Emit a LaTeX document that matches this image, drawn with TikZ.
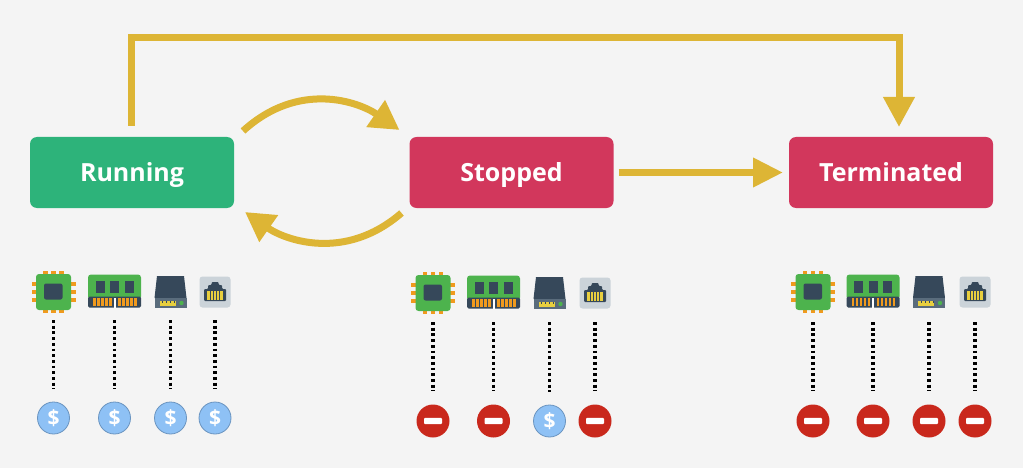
\documentclass[tikz,border=0pt]{standalone}
\usepackage{fontspec}
\setmainfont{Open Sans}
\usetikzlibrary{arrows.meta,calc}
\definecolor{bgc}{HTML}{F4F4F4}
\definecolor{gold}{HTML}{DDB535}
\definecolor{runc}{HTML}{2DB37A}
\definecolor{stopc}{HTML}{D2375C}
\definecolor{chipg}{HTML}{4DB34D}
\definecolor{dark}{HTML}{36485A}
\definecolor{pinc}{HTML}{F09A1E}
\definecolor{slate}{HTML}{5A6C7C}
\definecolor{netc}{HTML}{CBD3D9}
\definecolor{pinny}{HTML}{E8CF3F}
\definecolor{coinf}{HTML}{8EC1F5}
\definecolor{coind}{HTML}{6A94C0}
\definecolor{stopr}{HTML}{C9281C}
\tikzset{
  x=1pt,y=-1pt,
  statebox/.style={fill=#1,rounded corners=7pt,minimum width=204pt,minimum height=71pt,inner sep=0pt,outer sep=0pt,text=white,text height=18pt,text depth=0pt,font=\fontsize{25}{26}\selectfont\bfseries},
  flow/.style={draw=gold,line width=7pt},
  flowhead/.style={flow,-{Triangle[length=30pt,width=30pt]}},
  curvehead/.style={flow,-{Triangle[length=29pt,width=31pt]}},
  dotline/.style={draw=black,line width=3.2pt,dash pattern=on 2.8pt off 2.9pt,shorten >=13pt},
  coin/.style={circle,fill=coinf,draw=coind,line width=0.8pt,minimum size=32pt,inner sep=0pt,text=white,font=\fontsize{21}{22}\selectfont\bfseries},
  nogo/.style={circle,fill=stopr,minimum size=33pt,inner sep=0pt,
    path picture={\fill[white,rounded corners=1pt] ([shift={(-9pt,-3.2pt)}]path picture bounding box.center) rectangle ++(18,-6.4);}},
  chip/.pic={
    \foreach \d in {-8,0,8}{
      \fill[pinc] (\d-2.4,-21) rectangle (\d+2.4,21);
      \fill[pinc] (-22,\d-2.4) rectangle (22,\d+2.4);}
    \fill[chipg,rounded corners=3pt] (-17.5,-18) rectangle (17.5,18);
    \fill[dark,rounded corners=2pt] (-9.5,-8.5) rectangle (9,7.5);
  },
  ram/.pic={
    \fill[chipg,rounded corners=3pt] (-26.5,-17) rectangle (26.5,8);
    \fill[dark,rounded corners=1.5pt] (-26.5,5) rectangle (26.5,16);
    \foreach \d in {-14.5,0,14.5}{\fill[dark] (\d-4.5,-10.5) rectangle (\d+4.5,1);}
    \foreach \d in {-20,-16,-12,-8,-4,5,9,13,17,21}{\fill[pinc] (\d-1.2,6) rectangle (\d+1.2,14.5);}
    \fill[white] (-1,6) rectangle (1,16);
  },
  disk/.pic={
    \fill[dark] (-13.5,-16) -- (13.5,-16) -- (16,6) -- (-16,6) -- cycle;
    \fill[slate] (-16,6) rectangle (16,16);
    \fill[pinny] (-11,9) rectangle (5,13.5);
    \foreach \d in {-8,-4,0,4}{\fill[dark] (\d-.5,9) rectangle (\d+.5,11);}
    \fill[chipg] (11,11) circle (2.2);
  },
  netport/.pic={
    \fill[netc,rounded corners=3pt] (-15.5,-15.5) rectangle (15.5,15.5);
    \fill[dark,rounded corners=1pt] (-11,9) -- (-11,-3) -- (-7,-3) -- (-7,-7) -- (-3.5,-7) -- (-3.5,-10) -- (3.5,-10) -- (3.5,-7) -- (7,-7) -- (7,-3) -- (11,-3) -- (11,9) -- cycle;
    \fill[pinny] (-8,-1) rectangle (8,7.5);
    \foreach \d in {-4.8,-1.6,1.6,4.8}{\fill[dark] (\d-.4,-1) rectangle (\d+.4,7.5);}
  }
}
\begin{document}
\begin{tikzpicture}
\useasboundingbox (0,0) rectangle (1023,468);
\fill[bgc] (0,0) rectangle (1023,468);
% states
\node[statebox=runc] (running) at (132,172.5) {Running};
\node[statebox=stopc] (stopped) at (511.5,172.5) {Stopped};
\node[statebox=stopc] (terminated) at (891,172.5) {Terminated};
% transitions
\coordinate (topL) at (131,38);
\coordinate (topR) at (899,38);
\draw[flowhead,line join=miter] ([shift={(-1pt,11pt)}]running.north) -- (topL) -- (topR) -- ([shift={(8pt,10pt)}]terminated.north);
\draw[flowhead,-{Triangle[length=30pt,width=28pt]}] (stopped.east) ++(5pt,0) -- ([xshift=-6pt]terminated.west);
\draw[curvehead] ([shift={(9pt,6pt)}]running.north east) .. controls (299,80) and (359,102) .. ([shift={(-10pt,7pt)}]stopped.north west);
\draw[curvehead] ([shift={(-8pt,-5pt)}]stopped.south west) .. controls (345,262) and (285,240) .. ([shift={(11pt,-4pt)}]running.south east);
% icons, dotted links and price marks
\foreach \p/\xa/\xb/\xc/\xd/\yi/\yd/\yc/\ka/\kb/\kc/\kd in {
  r/53.5/114.5/170.5/215/292/320/418/coin/coin/coin/coin,
  s/433/493.5/549.5/595/293/322/421/nogo/nogo/coin/nogo,
  t/813/873/929/975/292/322/421/nogo/nogo/nogo/nogo}{
  \pic at (\xa,\yi) {chip};
  \pic at (\xb,\yi-.5) {ram};
  \pic at (\xc,\yi) {disk};
  \pic at (\xd,\yi) {netport};
  \foreach \i/\x/\k in {1/\xa/\ka,2/\xb/\kb,3/\xc/\kc,4/\xd/\kd}{
    \coordinate (\p\i top) at (\x,\yd);
    \edef\isnogo{\k}
    \def\nogoname{nogo}
    \ifx\isnogo\nogoname
      \node[nogo] (\p\i mark) at (\x,\yc) {};
    \else
      \node[coin] (\p\i mark) at (\x,\yc) {\$};
    \fi
    \draw[dotline] (\p\i top) -- (\p\i mark);
  }
}
\end{tikzpicture}
\end{document}
